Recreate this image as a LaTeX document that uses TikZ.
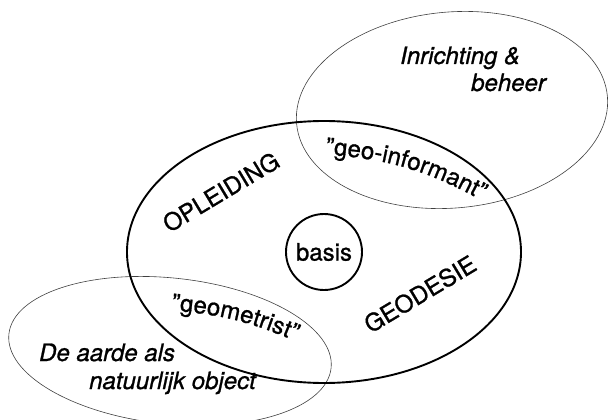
\documentclass[tikz,border=0pt]{standalone}
\usepackage{fontspec}
\setmainfont{TeX Gyre Heros}[FakeBold=1]
\usetikzlibrary{decorations.text}
\begin{document}
\begin{tikzpicture}[x=1pt,y=-1pt,
  thickline/.style={line width=1.9pt},
  thinline/.style={line width=0.6pt, black!75},
  lbl/.style={font=\fontsize{24}{25}\selectfont, inner sep=0pt},
  ilbl/.style={font=\fontsize{24}{25}\selectfont\itshape, inner sep=0pt, align=left}]
\useasboundingbox (0,0) rectangle (608,420);
% thin ellipses
\draw[thinline, rotate around={5:(452,110)}] (452,110) ellipse [x radius=156, y radius=98];
\draw[thinline, rotate around={-6:(170,351)}] (170,351) ellipse [x radius=162, y radius=73];
% main ellipse
\draw[thickline] (324,252) ellipse [x radius=197, y radius=131];
% basis circle
\node[thickline, draw, circle, minimum size=76pt, inner sep=0pt, font=\fontsize{24}{25}\selectfont] (basis) at (324,252) {basis};
% straight labels
\node[lbl, rotate=31] (opl) at (221,192) {OPLEIDING};
\node[lbl, rotate=31] (geo) at (420,294) {GEODESIE};
\node[ilbl, anchor=base west] (inr) at (400,64) {Inrichting \&};
\node[ilbl, anchor=base west] (beh) at (471,91) {beheer};
\node[ilbl, anchor=base west] (aar) at (39,361) {De aarde als};
\node[ilbl, anchor=base west] (nat) at (89,389) {natuurlijk object};
% curved labels
\coordinate (gi1) at (318,154);
\coordinate (gi2) at (488,204);
\path[decorate, decoration={text along path, text align=center,
  text={|\fontsize{24}{25}\selectfont|"geo-informant"}}]
  (gi1) to[bend left=13] (gi2);
\coordinate (gm1) at (164,310);
\coordinate (gm2) at (302,344);
\path[decorate, decoration={text along path, text align=center,
  text={|\fontsize{24}{25}\selectfont|"geometrist"}}]
  (gm1) to[bend left=10] (gm2);
\end{tikzpicture}
\end{document}
